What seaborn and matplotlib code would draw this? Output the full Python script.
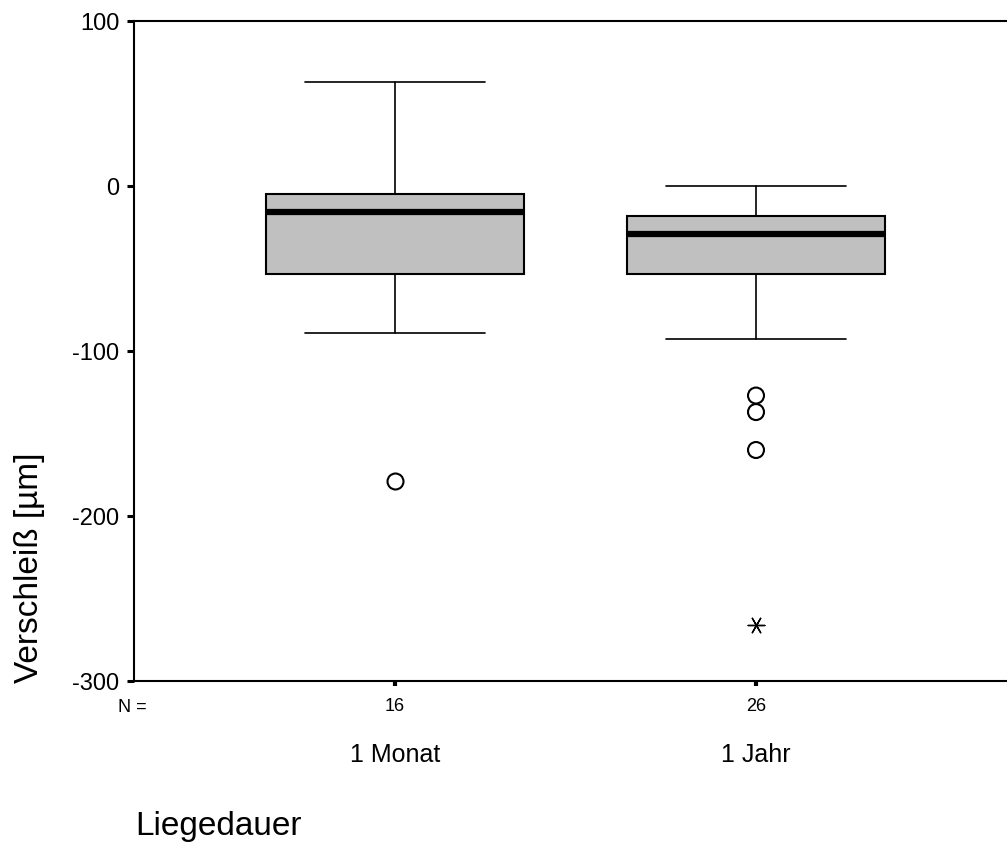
import matplotlib
matplotlib.use("Agg")
import matplotlib.pyplot as plt
import seaborn as sns
import pandas as pd

# Wear values per storage duration (box summary statistics)
groups = ["1 Monat", "1 Jahr"]
n_counts = ["16", "26"]
whisker_low = [-89, -93]
q1 = [-53.5, -53.5]
median = [-16, -29]
q3 = [-5, -18]
whisker_high = [63, 0]

# Outliers (circles) and extreme values (asterisks)
outlier_group = ["1 Monat", "1 Jahr", "1 Jahr", "1 Jahr"]
outlier_values = [-179, -127, -137, -160]
extreme_group = ["1 Jahr"]
extreme_values = [-266]

y_ticks = [-300, -200, -100, 0, 100]
y_tick_labels = ["-300", "-200", "-100", "0", "100"]

sns.set_style("ticks")
plt.rcParams["font.family"] = ["Liberation Sans", "DejaVu Sans"]
plt.rcParams["text.color"] = "black"
plt.rcParams["axes.labelcolor"] = "black"
plt.rcParams["xtick.color"] = "black"
plt.rcParams["ytick.color"] = "black"

W, H = 1007, 845
fig = plt.figure(figsize=(W / 100, H / 100), dpi=100)
left_px, right_px, top_px, bottom_px = 134, 1017, 22, 682
ax = fig.add_axes([left_px / W, 1 - bottom_px / H,
                   (right_px - left_px) / W, (bottom_px - top_px) / H])

out_df = pd.DataFrame({"Liegedauer": outlier_group, "Wert": outlier_values})
ext_df = pd.DataFrame({"Liegedauer": extreme_group, "Wert": extreme_values})

sns.stripplot(data=out_df, x="Liegedauer", y="Wert", order=groups,
              jitter=False, marker="o", size=11.5, color="white",
              edgecolor="black", linewidth=1.5, ax=ax, zorder=4)
ax.collections[-1].set_facecolor("none")
sns.stripplot(data=ext_df, x="Liegedauer", y="Wert", order=groups,
              jitter=False, marker=(6, 2, 30), size=12, color="black",
              edgecolor="black", linewidth=1.0, ax=ax, zorder=4)

stats = [dict(med=median[i], q1=q1[i], q3=q3[i],
              whislo=whisker_low[i], whishi=whisker_high[i], fliers=[])
         for i in range(len(groups))]
ax.bxp(stats, positions=range(len(groups)), widths=0.715, capwidths=0.5,
       patch_artist=True, showfliers=False, manage_ticks=False,
       boxprops=dict(facecolor="#c0c0c0", edgecolor="black", linewidth=1.5),
       medianprops=dict(color="black", linewidth=4.5, solid_capstyle="butt"),
       whiskerprops=dict(color="black", linewidth=1.2),
       capprops=dict(color="black", linewidth=1.2))

span = (right_px - left_px)
unit = 756 - 395
x_left = -(395 - left_px) / unit
ax.set_xlim(x_left, x_left + span / unit)
ax.set_ylim(-300, 100)

for s in ax.spines.values():
    s.set_visible(True)
    s.set_linewidth(1.5)
    s.set_color("black")

ax.set_yticks(y_ticks, labels=y_tick_labels)
ax.set_xticks(range(len(groups)), labels=n_counts)
ax.tick_params(axis="y", direction="out", length=5, width=2.2,
               labelsize=17, pad=5.5, colors="black")
ax.tick_params(axis="x", direction="out", length=3.5, width=3,
               labelsize=13, pad=8, colors="black")
ax.set_xlabel("")
ax.set_ylabel("")

# Category names below the counts
for i, g in enumerate(groups):
    ax.annotate(g, xy=(i, 0), xycoords=("data", "axes fraction"),
                xytext=(0, -(762 - bottom_px)), textcoords="offset pixels",
                ha="center", va="baseline", fontsize=18, color="black")

fig.text(132 / W, 1 - 712 / H, "N =", ha="center", va="baseline",
         fontsize=13, color="black")
fig.text(135 / W, 1 - 835 / H, "Liegedauer", ha="left", va="baseline",
         fontsize=24, color="black")
fig.text(30 / W, 1 - 683 / H, "Verschleiß [µm]", rotation=90,
         ha="center", va="bottom", fontsize=24, color="black")

fig.savefig("out.png", dpi=100)
